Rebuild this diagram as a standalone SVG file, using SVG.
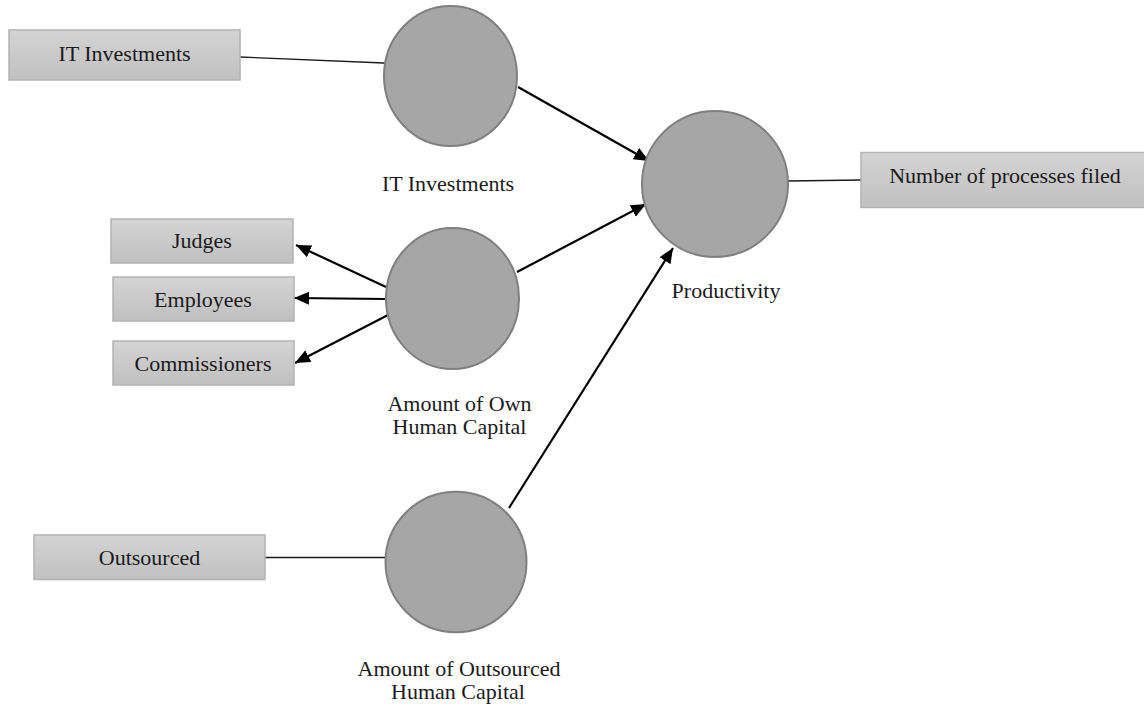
<svg xmlns="http://www.w3.org/2000/svg" width="1144" height="705" viewBox="0 0 1144 705">
<style>
.box{fill:url(#g);stroke:#b3b3b3;stroke-width:1.5}
.circ{fill:#a6a6a6;stroke:#7f7f7f;stroke-width:2}
.t{font-family:"Liberation Serif","Times New Roman",serif;font-size:22px;fill:#1a1a1a;text-anchor:middle}
.ln{stroke:#1a1a1a;stroke-width:1.3;fill:none}
.ar{stroke:#000;stroke-width:2.2;fill:none;marker-end:url(#ah)}
</style>
<defs>
<linearGradient id="g" x1="0" y1="0" x2="0" y2="1">
<stop offset="0" stop-color="#d4d4d4"/>
<stop offset="1" stop-color="#c0c0c0"/>
</linearGradient>
<marker id="ah" markerUnits="userSpaceOnUse" markerWidth="16" markerHeight="14" refX="15" refY="6.5" orient="auto">
<path d="M0,0 L15,6.5 L0,13 z" fill="#000"/>
</marker>
</defs>
<rect width="1144" height="705" fill="#fff"/>
<g id="connectors">
<line class="ln" x1="240" y1="57" x2="384" y2="63"/>
<line class="ar" x1="518" y1="87" x2="649" y2="161"/>
<line class="ar" x1="517" y1="272" x2="646" y2="204"/>
<line class="ar" x1="509" y1="508" x2="673" y2="248"/>
<line class="ar" x1="386" y1="287" x2="296" y2="245"/>
<line class="ar" x1="386" y1="299" x2="294" y2="298"/>
<line class="ar" x1="388" y1="315" x2="295" y2="363"/>
<line class="ln" x1="788" y1="181" x2="861" y2="180"/>
<line class="ln" x1="265" y1="557.5" x2="386" y2="557.5"/>
</g>
<g id="it-box"><rect class="box" x="9" y="30" width="231" height="50"/><text class="t" x="124.5" y="61">IT Investments</text></g>
<g id="judges"><rect class="box" x="111" y="219" width="182" height="44"/><text class="t" x="202" y="248">Judges</text></g>
<g id="employees"><rect class="box" x="113" y="277" width="181" height="44"/><text class="t" x="203" y="307">Employees</text></g>
<g id="commissioners"><rect class="box" x="113" y="341" width="181" height="44"/><text class="t" x="203" y="370.5">Commissioners</text></g>
<g id="outsourced"><rect class="box" x="34" y="535" width="231" height="44.5"/><text class="t" x="149.5" y="565">Outsourced</text></g>
<g id="number"><rect class="box" x="861" y="152.5" width="290" height="55"/><text class="t" x="1005" y="183">Number of processes filed</text></g>
<g id="it-circle"><ellipse class="circ" cx="450.5" cy="76" rx="66.5" ry="70"/><text class="t" x="448" y="191">IT Investments</text></g>
<g id="own-circle"><ellipse class="circ" cx="452.5" cy="298.5" rx="66.5" ry="70.5"/><text class="t" x="459.5" y="410.5">Amount of Own</text><text class="t" x="459.5" y="433.5">Human Capital</text></g>
<g id="outsourced-circle"><ellipse class="circ" cx="456" cy="562" rx="70.5" ry="70.3"/><text class="t" x="459" y="675.5">Amount of Outsourced</text><text class="t" x="458" y="698.5">Human Capital</text></g>
<g id="productivity"><ellipse class="circ" cx="715" cy="184" rx="73" ry="73"/><text class="t" x="726" y="298">Productivity</text></g>
</svg>
